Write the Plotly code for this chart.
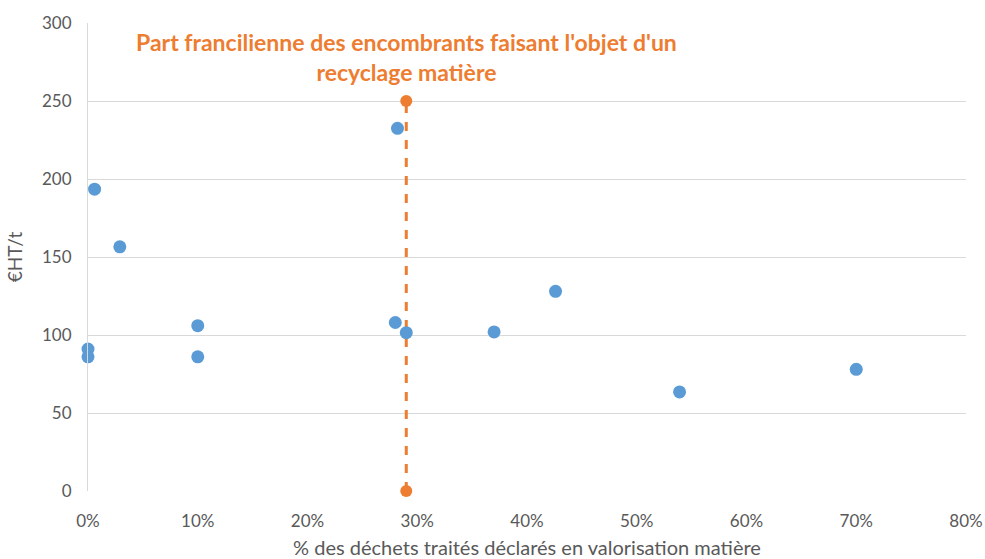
import plotly.graph_objects as go

# Share of waste declared as material recovery (fraction) and cost in €HT/t
taux_valorisation = [0.006, 0.029, 0.0, 0.0, 0.10, 0.10, 0.282, 0.280, 0.290, 0.370, 0.426, 0.539, 0.700]
cout_eur_ht_t = [193.5, 156.5, 91, 86, 106, 86, 232.5, 108, 101.5, 102, 128, 63.5, 78]

# Île-de-France share of bulky waste going to material recycling
part_francilienne = [0.29, 0.29]
repere_y = [0, 250]

x_ticks = [0, 0.1, 0.2, 0.3, 0.4, 0.5, 0.6, 0.7, 0.8]
y_ticks = [0, 50, 100, 150, 200, 250, 300]

blue = "#5b9bd5"
orange = "#ed7d31"
grey_text = "#595959"
font_family = "Lato, 'Open Sans', sans-serif"

fig = go.Figure()

fig.add_trace(go.Scatter(
    x=part_francilienne, y=repere_y,
    mode="lines+markers",
    line=dict(color=orange, width=3, dash="dash"),
    marker=dict(color=orange, size=12),
    cliponaxis=False,
    showlegend=False,
    hoverinfo="skip",
))

fig.add_trace(go.Scatter(
    x=taux_valorisation, y=cout_eur_ht_t,
    mode="markers",
    marker=dict(color=blue, size=13),
    cliponaxis=False,
    showlegend=False,
))

fig.add_annotation(
    x=0.29, y=1.0, xref="x", yref="paper",
    yanchor="top", xanchor="center", yshift=-3,
    text="<b>Part francilienne des encombrants faisant l'objet d'un<br>recyclage matière</b>",
    showarrow=False,
    font=dict(family=font_family, size=23, color=orange),
    align="center",
)

fig.update_xaxes(
    range=[0, 0.8],
    tickvals=x_ticks,
    tickformat=".0%",
    showgrid=False,
    zeroline=False,
    showline=False,
    ticks="",
    automargin=False,
    ticklabelstandoff=18,
    tickfont=dict(family=font_family, size=17, color=grey_text),
    title=dict(text="% des déchets traités déclarés en valorisation matière",
               font=dict(family=font_family, size=20, color=grey_text),
               standoff=10),
)

fig.update_yaxes(
    range=[0, 300],
    tickvals=y_ticks,
    showgrid=True,
    gridcolor="#d9d9d9",
    gridwidth=1,
    zeroline=False,
    showline=True,
    linecolor="#d9d9d9",
    linewidth=1,
    ticks="",
    automargin=False,
    ticklabelstandoff=12,
    tickfont=dict(family=font_family, size=17, color=grey_text),
    title=dict(text="€HT/t", font=dict(family=font_family, size=19, color=grey_text),
               standoff=14),
)

fig.update_layout(
    width=985, height=559,
    margin=dict(l=88, r=19, t=23, b=68),
    plot_bgcolor="white",
    paper_bgcolor="white",
)

fig.write_html("out.html")
